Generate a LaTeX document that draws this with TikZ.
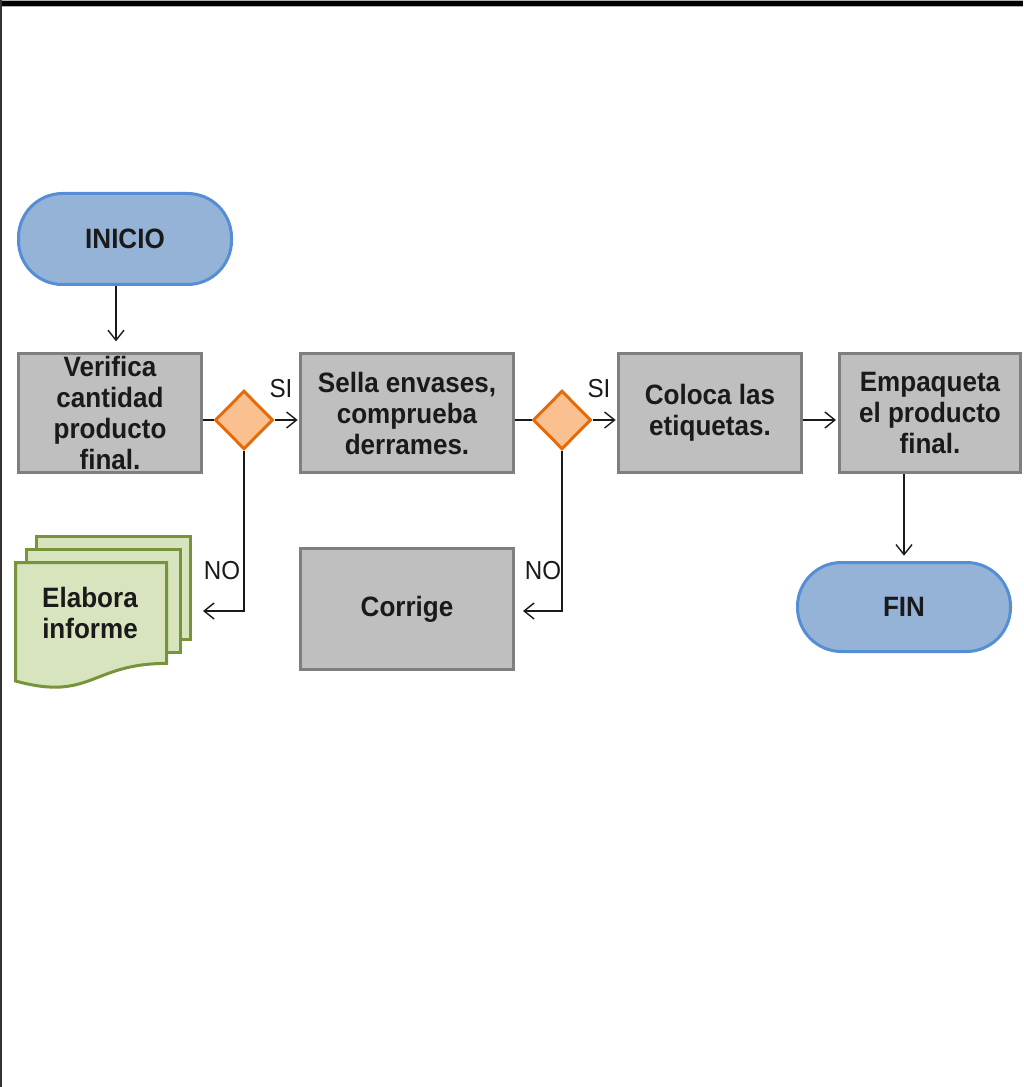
\documentclass[tikz,border=0pt]{standalone}
\usepackage{fontspec}
\setmainfont{Liberation Sans}[FakeStretch=0.93]
\usetikzlibrary{shapes.geometric,arrows.meta,calc}
\definecolor{bluefill}{HTML}{95B3D7}
\definecolor{blueline}{HTML}{558ED5}
\definecolor{grayfill}{HTML}{BFBFBF}
\definecolor{grayline}{HTML}{7F7F7F}
\definecolor{orfill}{HTML}{FAC090}
\definecolor{orline}{HTML}{E46C0A}
\definecolor{grfill}{HTML}{D7E4BD}
\definecolor{grline}{HTML}{77933C}
\definecolor{txt}{HTML}{1A1A1A}
\begin{document}
\begin{tikzpicture}[x=0.75pt,y=-0.75pt,
  every node/.style={text=txt,font=\fontsize{21}{23.25}\selectfont\bfseries,align=center,inner sep=0pt},
  term/.style={draw=blueline,fill=bluefill,line width=2.25pt,rounded corners=33pt,minimum width=159.75pt,minimum height=68.25pt},
  proc/.style={draw=grayline,fill=grayfill,line width=2.25pt,minimum height=89.25pt},
  dec/.style={diamond,draw=orline,fill=orfill,line width=2.25pt,minimum width=43.5pt,minimum height=44pt,aspect=1},
  docsh/.style={draw=grline,fill=grfill,line width=2.25pt},
  arr/.style={draw=txt,line width=1.05pt,-{Straight Barb[length=7.5pt,width=12pt]}},
  lnk/.style={draw=txt,line width=1.05pt},
  lbl/.style={font=\fontsize{19.5}{21}\selectfont}
]
\useasboundingbox (0,0) rectangle (1023,1087);
% frame
\fill[gray!60] (0,0) rectangle (1023,7);
\fill[black] (0,1.5) rectangle (1023,6.5);
\fill[black!80] (0,0) rectangle (1.5,1087);

% nodes
\node[term] (inicio) at (125,239) {INICIO};
\node[proc,minimum width=137.25pt] (verifica) at (110,413) {Verifica\\cantidad\\producto\\final.};
\node[dec] (d1) at (244,420) {};
\node[proc,minimum width=159.75pt] (sella) at (407,413) {Sella envases,\\comprueba\\derrames.};
\node[dec] (d2) at (562,420) {};
\node[proc,minimum width=137.25pt] (coloca) at (710,413) {Coloca las\\etiquetas.};
\node[proc,minimum width=135.75pt] (empaqueta) at (930,413) {Empaqueta\\el producto\\final.};
\node[proc,minimum width=159.75pt,minimum height=90.75pt] (corrige) at (407,609) {Corrige};
\node[term,minimum height=66.75pt] (fin) at (904,607) {FIN};

% multi-document
\path[docsh] (36.5,536.5) rectangle (190,639);
\path[docsh] (26.5,549.5) rectangle (180.5,652);
\path[docsh] (15.5,562.5) -- (166.5,562.5) -- (166.5,663.4)
  .. controls (91,663.4) and (91,701.8) .. (15.5,681) -- cycle;
\node (informe) at (90,613) {Elabora\\informe};

% labels
\node[lbl] (si1) at (281,389) {SI};
\node[lbl] (si2) at (599,389) {SI};
\node[lbl] (no1) at (222,571) {NO};
\node[lbl] (no2) at (543,571) {NO};

% connectors
\coordinate (ax) at (116,0);
\coordinate (noEnd) at (203,611);
\draw[arr,shorten >=8pt] (inicio.south -| ax) -- (verifica.north -| ax);
\draw[lnk] (verifica.east |- d1.west) -- (d1.west);
\draw[arr,shorten >=1pt] (d1.east) -- (sella.west |- d1.east);
\draw[arr] (d1.south) |- (noEnd);
\draw[lnk] (sella.east |- d2.west) -- (d2.west);
\draw[arr,shorten >=1pt] (d2.east) -- (coloca.west |- d2.east);
\draw[arr,shorten >=6pt] (d2.south) |- ([yshift=-1.5pt]corrige.east);
\draw[arr,shorten >=1.5pt] (coloca.east |- d2.east) -- (empaqueta.west |- d2.east);
\draw[arr,shorten >=4pt] (fin.north |- empaqueta.south) -- (fin.north);
\end{tikzpicture}
\end{document}
